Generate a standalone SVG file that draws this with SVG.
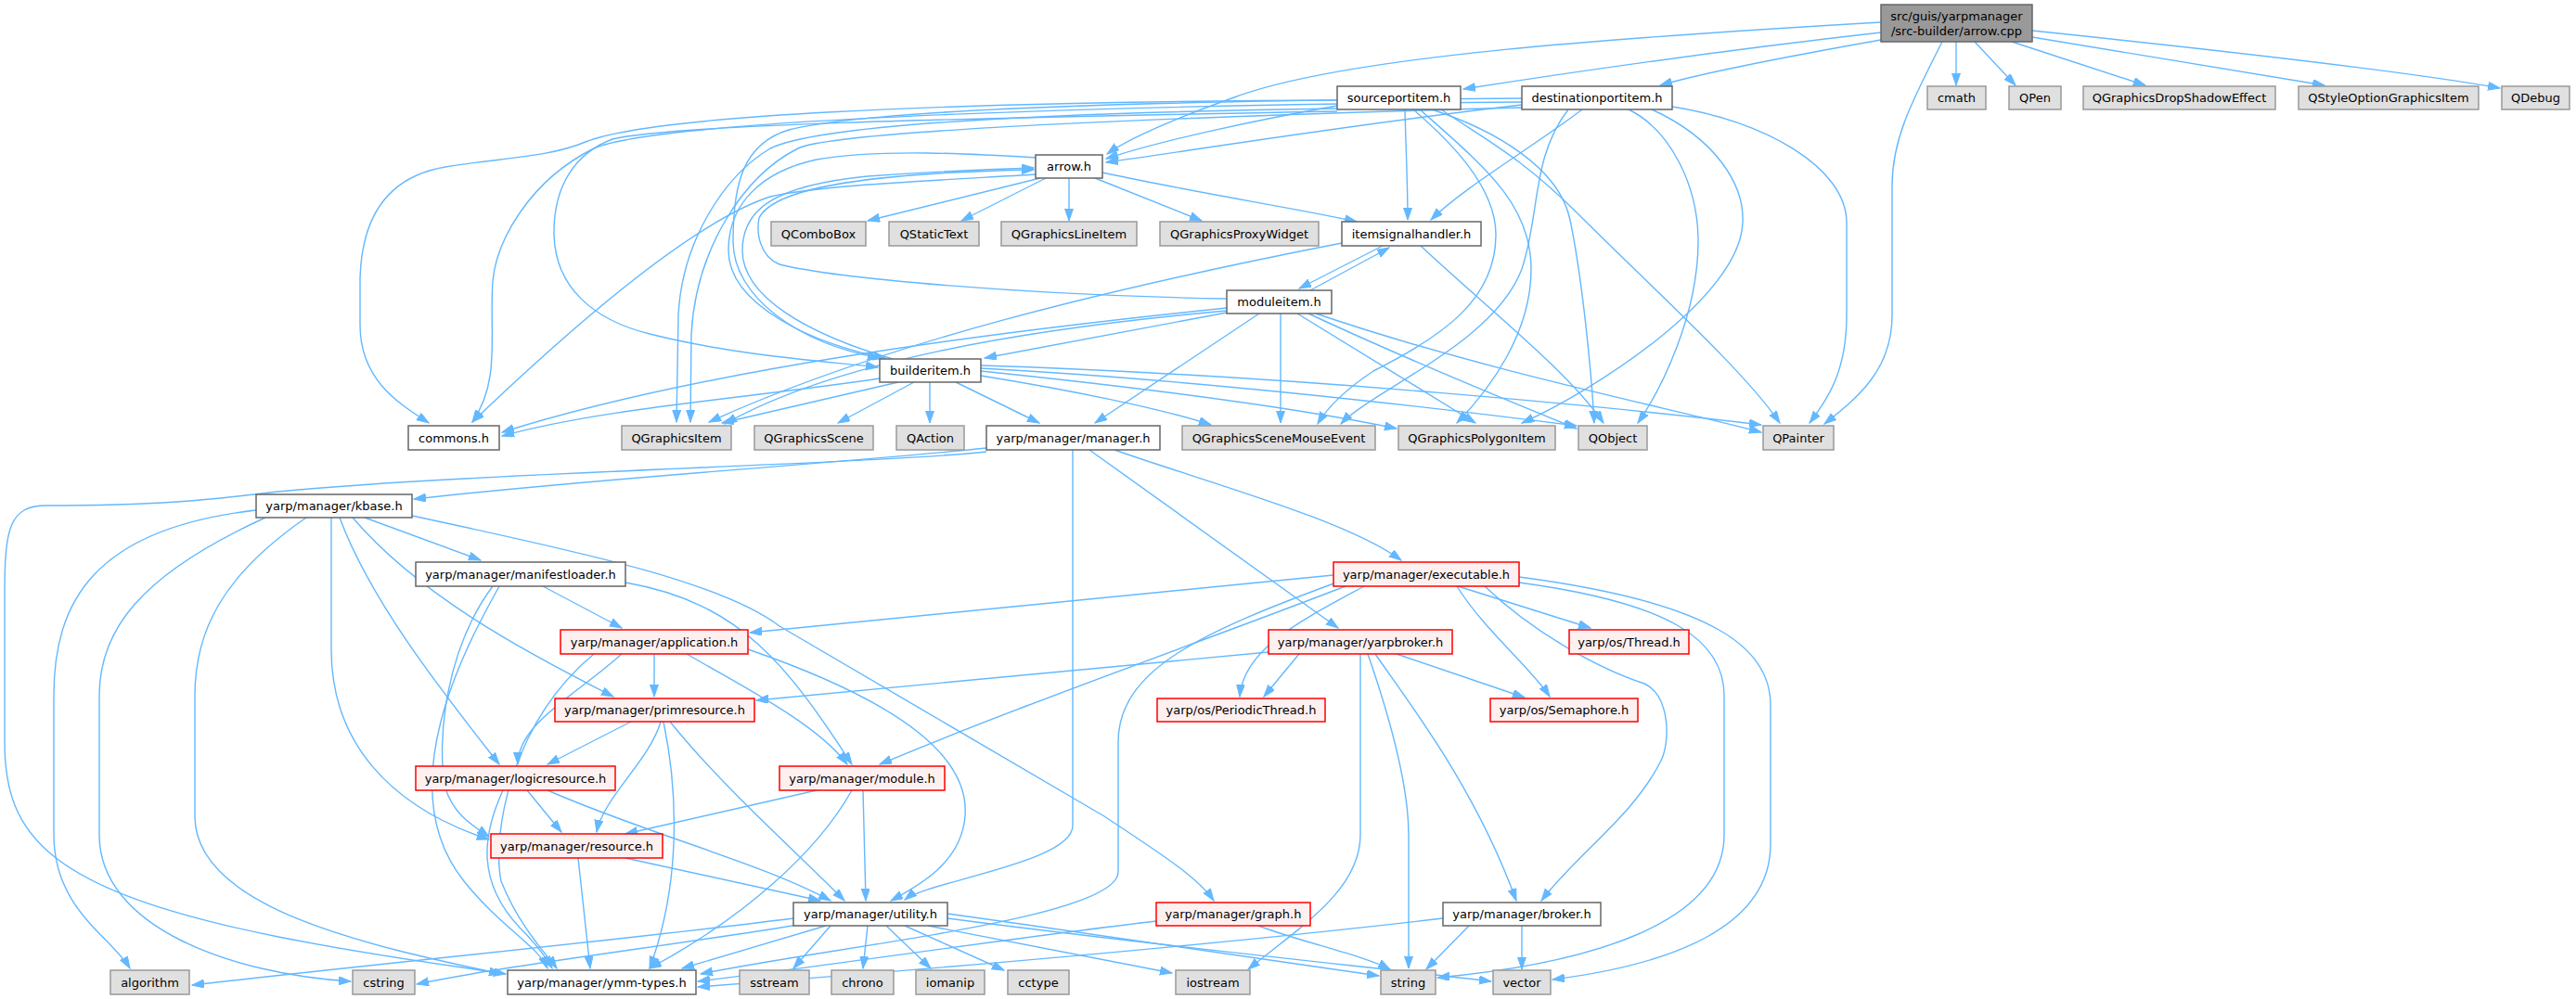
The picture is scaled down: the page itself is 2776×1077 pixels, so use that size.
<svg xmlns="http://www.w3.org/2000/svg" width="2776" height="1077" viewBox="0 0 2776 1077">
<defs>
<marker id="ah" markerUnits="userSpaceOnUse" markerWidth="14" markerHeight="10" refX="13" refY="4.5" orient="auto">
<path d="M0,0 L13,4.5 L0,9 z" fill="#63b8ff" stroke="#63b8ff" stroke-width="1"/>
</marker>
</defs>
<style>
rect{stroke-width:1.5}
.n rect{fill:#ffffff;stroke:#666666}
.g rect{fill:#e0e0e0;stroke:#999999}
.r rect{fill:#fff0f0;stroke:#ff0000}
.root rect{fill:#999999;stroke:#666666}
text{font-family:"DejaVu Sans","Liberation Sans",sans-serif;font-size:13px;text-anchor:middle;fill:#000000}
#edges path{fill:none;stroke:#63b8ff;stroke-width:1.4;marker-end:url(#ah)}
</style>
<rect x="0" y="0" width="2776" height="1077" fill="#ffffff"/>
<g id="edges">
<path d="M2027,24 C1750,40 1450,60 1330,105 C1260,130 1215,150 1193,166"/>
<path d="M2027,35 C1850,55 1680,80 1577,96"/>
<path d="M2027,43 C1920,62 1830,80 1789,92"/>
<path d="M2108,45 L2108,92"/>
<path d="M2128,45 L2172,92"/>
<path d="M2168,45 L2312,92"/>
<path d="M2190,40 L2505,92"/>
<path d="M2190,33 C2400,55 2600,78 2694,95"/>
<path d="M2093,45 C2060,110 2039,150 2039,200 L2039,340 C2039,400 2000,430 1966,457"/>
<path d="M1441,114 C1350,130 1250,152 1192,171"/>
<path d="M1514,118 C1515,160 1517,200 1517,237"/>
<path d="M1441,108 C1000,110 700,125 631,153 C590,170 540,170 480,180 C420,190 390,230 388,300 L388,350 C388,410 430,435 462,456"/>
<path d="M1441,120 C1000,128 720,135 660,150 C620,165 597,200 597,250 C597,310 640,345 700,360 C800,385 900,390 946,396"/>
<path d="M1441,117 C1100,122 880,135 830,160 C780,190 735,260 731,340 L729,455"/>
<path d="M1523,118 C1560,150 1612,200 1612,253 C1612,320 1560,360 1480,400 C1450,420 1430,440 1420,457"/>
<path d="M1530,118 C1600,180 1650,220 1650,290 C1650,360 1605,420 1570,456"/>
<path d="M1543,118 C1610,140 1680,180 1692,237 C1705,300 1715,400 1718,456"/>
<path d="M1553,118 C1600,150 1640,170 1700,230 C1780,310 1880,400 1918,456"/>
<path d="M1640,113 C1450,135 1300,160 1192,175"/>
<path d="M1705,118 C1650,160 1580,200 1542,237"/>
<path d="M1640,110 C1300,112 720,125 640,160 C570,195 535,260 531,303 C527,360 540,410 509,455"/>
<path d="M1640,106 C1300,108 950,115 850,140 C800,155 790,200 790,260 C790,320 860,370 948,386"/>
<path d="M1640,116 C1300,125 900,140 860,160 C800,190 750,270 745,360 L744,455"/>
<path d="M1690,118 C1650,170 1660,230 1640,290 C1610,370 1480,420 1445,457"/>
<path d="M1780,118 C1850,150 1880,200 1878,240 C1875,320 1720,420 1640,456"/>
<path d="M1755,118 C1800,140 1830,200 1830,260 C1830,340 1790,420 1765,456"/>
<path d="M1802,115 C1900,130 1990,180 1990,240 L1990,340 C1990,400 1970,430 1950,456"/>
<path d="M1121,192 L935,238"/>
<path d="M1127,192 L1036,238"/>
<path d="M1152,192 L1152,238"/>
<path d="M1180,192 L1295,238"/>
<path d="M1188,186 C1300,210 1400,225 1462,239"/>
<path d="M1117,170 C1050,166 950,160 880,172 C820,185 785,220 785,270 C785,330 880,372 954,386"/>
<path d="M1117,188 C1000,195 880,200 830,212 C760,235 650,320 509,455"/>
<path d="M1490,265 L1400,311"/>
<path d="M1531,265 C1600,330 1690,400 1728,456"/>
<path d="M1446,262 C1200,310 950,370 764,455"/>
<path d="M1412,313 L1497,267"/>
<path d="M1321,322 C1100,318 900,300 840,285 C818,276 815,250 818,235 C835,200 950,186 1114,183"/>
<path d="M1322,337 L1061,386"/>
<path d="M1322,332 C1050,360 750,400 541,466"/>
<path d="M1322,335 C1100,355 900,390 781,457"/>
<path d="M1357,338 L1180,456"/>
<path d="M1380,338 L1380,456"/>
<path d="M1398,338 L1590,456"/>
<path d="M1410,338 C1500,380 1620,430 1699,462"/>
<path d="M1418,338 C1600,400 1800,440 1898,466"/>
<path d="M962,387 C870,360 800,320 800,270 C800,225 835,200 935,190 C1020,184 1080,182 1114,181"/>
<path d="M948,408 C800,430 650,440 541,470"/>
<path d="M968,412 L778,456"/>
<path d="M985,412 L903,456"/>
<path d="M1002,412 L1002,456"/>
<path d="M1030,412 L1120,456"/>
<path d="M1057,405 C1150,420 1250,440 1305,458"/>
<path d="M1057,400 C1250,420 1400,440 1505,462"/>
<path d="M1057,397 C1300,410 1550,440 1699,459"/>
<path d="M1057,394 C1400,405 1750,440 1898,458"/>
<path d="M1063,483 C900,500 650,515 446,538"/>
<path d="M1063,487 C950,500 500,510 300,530 C250,535 200,545 50,545 C10,545 5,570 5,640 L5,800 C5,900 50,960 300,1010 C400,1030 480,1040 545,1050"/>
<path d="M1156,485 L1156,890 C1156,930 1000,950 975,970"/>
<path d="M1174,485 L1442,677"/>
<path d="M1201,485 C1300,520 1450,560 1510,604"/>
<path d="M276,550 C100,570 58,650 58,750 L58,900 C58,980 120,1010 140,1044"/>
<path d="M286,558 C150,620 107,680 107,750 L107,900 C107,1000 250,1050 378,1058"/>
<path d="M330,558 C240,620 210,680 210,750 L210,880 C210,980 400,1020 540,1050"/>
<path d="M357,558 L357,700 C357,800 420,870 527,905"/>
<path d="M366,558 C400,650 480,750 538,824"/>
<path d="M380,558 C450,640 560,700 661,751"/>
<path d="M393,558 L518,604"/>
<path d="M444,556 C650,600 780,630 840,675 L1190,880 C1250,920 1290,945 1308,971"/>
<path d="M585,632 L670,677"/>
<path d="M531,632 C480,700 470,800 480,850 C490,880 510,890 527,902"/>
<path d="M538,632 C500,700 420,850 500,950 C540,1000 580,1020 590,1044"/>
<path d="M674,628 C800,650 850,720 918,824"/>
<path d="M1437,620 L808,682"/>
<path d="M1450,632 C1300,690 1100,760 948,824"/>
<path d="M1440,628 C1300,680 1205,720 1205,800 L1205,940 C1205,990 900,1020 755,1050"/>
<path d="M1470,632 C1400,670 1340,700 1336,751"/>
<path d="M1570,632 C1600,680 1650,720 1670,751"/>
<path d="M1571,632 L1714,677"/>
<path d="M1600,632 C1650,680 1720,720 1772,737 C1800,750 1800,800 1790,820 C1760,880 1700,920 1661,971"/>
<path d="M1637,628 C1800,650 1858,690 1858,750 L1858,900 C1858,1000 1700,1040 1549,1054"/>
<path d="M1637,622 C1850,650 1908,700 1908,760 L1908,910 C1908,1000 1800,1040 1673,1056"/>
<path d="M705,705 L705,751"/>
<path d="M670,705 C620,750 558,780 558,824"/>
<path d="M640,705 C550,780 530,900 540,950 C560,1000 590,1030 600,1044"/>
<path d="M740,705 C800,740 880,780 913,824"/>
<path d="M806,700 C980,760 1045,820 1040,880 C1036,930 990,955 960,971"/>
<path d="M1367,703 L815,755"/>
<path d="M1400,705 L1362,751"/>
<path d="M1505,705 L1643,752"/>
<path d="M1482,705 C1520,760 1590,850 1634,971"/>
<path d="M1474,705 C1500,780 1518,850 1518,900 L1518,1044"/>
<path d="M1466,705 L1466,900 C1466,960 1400,1000 1345,1045"/>
<path d="M680,778 L590,824"/>
<path d="M712,778 C700,820 650,860 643,897"/>
<path d="M722,778 C780,850 860,920 910,971"/>
<path d="M715,778 C730,850 735,950 700,1044"/>
<path d="M568,852 L605,897"/>
<path d="M542,852 C520,900 513,950 560,1000 C580,1020 590,1035 595,1044"/>
<path d="M590,852 C700,900 820,930 895,971"/>
<path d="M880,852 L674,899"/>
<path d="M930,852 L933,971"/>
<path d="M918,852 C880,920 800,990 700,1044"/>
<path d="M623,925 L636,1044"/>
<path d="M674,925 L884,971"/>
<path d="M855,990 C700,1010 400,1040 207,1062"/>
<path d="M860,997 C720,1020 550,1040 449,1061"/>
<path d="M890,998 L735,1044"/>
<path d="M895,998 L855,1044"/>
<path d="M935,998 L930,1044"/>
<path d="M955,998 L1003,1044"/>
<path d="M975,998 L1082,1046"/>
<path d="M1000,998 L1263,1049"/>
<path d="M1021,985 C1200,1010 1400,1040 1486,1052"/>
<path d="M1021,990 C1250,1020 1500,1045 1607,1058"/>
<path d="M1246,993 C1100,1010 900,1040 752,1058"/>
<path d="M1356,998 C1400,1015 1470,1030 1498,1045"/>
<path d="M1555,990 C1300,1020 1000,1045 752,1064"/>
<path d="M1583,998 L1537,1045"/>
<path d="M1640,998 L1640,1045"/>
</g>
<g id="node_root" class="root"><rect x="2027" y="5" width="163" height="40"/><text x="2108.5" y="21.5">src/guis/yarpmanager</text><text x="2108.5" y="37.5">/src-builder/arrow.cpp</text></g>
<g id="node_sourceportitem" class="n"><rect x="1441" y="93" width="133" height="25"/><text x="1507.5" y="110">sourceportitem.h</text></g>
<g id="node_destinationportitem" class="n"><rect x="1640" y="93" width="162" height="25"/><text x="1721" y="110">destinationportitem.h</text></g>
<g id="node_cmath" class="g"><rect x="2077" y="93" width="63" height="25"/><text x="2108.5" y="110">cmath</text></g>
<g id="node_QPen" class="g"><rect x="2165" y="93" width="56" height="25"/><text x="2193" y="110">QPen</text></g>
<g id="node_QGraphicsDropShadowEffect" class="g"><rect x="2245" y="93" width="207" height="25"/><text x="2348.5" y="110">QGraphicsDropShadowEffect</text></g>
<g id="node_QStyleOptionGraphicsItem" class="g"><rect x="2477" y="93" width="194" height="25"/><text x="2574" y="110">QStyleOptionGraphicsItem</text></g>
<g id="node_QDebug" class="g"><rect x="2696" y="93" width="73" height="25"/><text x="2732.5" y="110">QDebug</text></g>
<g id="node_arrow_h" class="n"><rect x="1116" y="167" width="72" height="25"/><text x="1152" y="184">arrow.h</text></g>
<g id="node_QComboBox" class="g"><rect x="831" y="239" width="102" height="26"/><text x="882" y="256.5">QComboBox</text></g>
<g id="node_QStaticText" class="g"><rect x="958" y="239" width="97" height="26"/><text x="1006.5" y="256.5">QStaticText</text></g>
<g id="node_QGraphicsLineItem" class="g"><rect x="1079" y="239" width="146" height="26"/><text x="1152" y="256.5">QGraphicsLineItem</text></g>
<g id="node_QGraphicsProxyWidget" class="g"><rect x="1250" y="239" width="171" height="26"/><text x="1335.5" y="256.5">QGraphicsProxyWidget</text></g>
<g id="node_itemsignalhandler" class="n"><rect x="1446" y="239" width="150" height="26"/><text x="1521" y="256.5">itemsignalhandler.h</text></g>
<g id="node_moduleitem" class="n"><rect x="1322" y="313" width="113" height="25"/><text x="1378.5" y="330">moduleitem.h</text></g>
<g id="node_builderitem" class="n"><rect x="948" y="387" width="109" height="25"/><text x="1002.5" y="404">builderitem.h</text></g>
<g id="node_commons" class="n"><rect x="440" y="459" width="98" height="26"/><text x="489" y="476.5">commons.h</text></g>
<g id="node_QGraphicsItem" class="g"><rect x="670" y="459" width="118" height="26"/><text x="729" y="476.5">QGraphicsItem</text></g>
<g id="node_QGraphicsScene" class="g"><rect x="813" y="459" width="128" height="26"/><text x="877" y="476.5">QGraphicsScene</text></g>
<g id="node_QAction" class="g"><rect x="966" y="459" width="73" height="26"/><text x="1002.5" y="476.5">QAction</text></g>
<g id="node_manager" class="n"><rect x="1063" y="459" width="187" height="26"/><text x="1156.5" y="476.5">yarp/manager/manager.h</text></g>
<g id="node_QGraphicsSceneMouseEvent" class="g"><rect x="1274" y="459" width="208" height="26"/><text x="1378" y="476.5">QGraphicsSceneMouseEvent</text></g>
<g id="node_QGraphicsPolygonItem" class="g"><rect x="1507" y="459" width="169" height="26"/><text x="1591.5" y="476.5">QGraphicsPolygonItem</text></g>
<g id="node_QObject" class="g"><rect x="1701" y="459" width="74" height="26"/><text x="1738" y="476.5">QObject</text></g>
<g id="node_QPainter" class="g"><rect x="1900" y="459" width="76" height="26"/><text x="1938" y="476.5">QPainter</text></g>
<g id="node_kbase" class="n"><rect x="276" y="533" width="168" height="25"/><text x="360" y="550">yarp/manager/kbase.h</text></g>
<g id="node_manifestloader" class="n"><rect x="448" y="606" width="226" height="26"/><text x="561" y="623.5">yarp/manager/manifestloader.h</text></g>
<g id="node_executable" class="r"><rect x="1437" y="606" width="200" height="26"/><text x="1537" y="623.5">yarp/manager/executable.h</text></g>
<g id="node_application" class="r"><rect x="604" y="679" width="202" height="26"/><text x="705" y="696.5">yarp/manager/application.h</text></g>
<g id="node_yarpbroker" class="r"><rect x="1367" y="679" width="198" height="26"/><text x="1466" y="696.5">yarp/manager/yarpbroker.h</text></g>
<g id="node_Thread" class="r"><rect x="1691" y="679" width="129" height="26"/><text x="1755.5" y="696.5">yarp/os/Thread.h</text></g>
<g id="node_primresource" class="r"><rect x="598" y="753" width="215" height="25"/><text x="705.5" y="770">yarp/manager/primresource.h</text></g>
<g id="node_PeriodicThread" class="r"><rect x="1247" y="753" width="181" height="25"/><text x="1337.5" y="770">yarp/os/PeriodicThread.h</text></g>
<g id="node_Semaphore" class="r"><rect x="1606" y="753" width="159" height="25"/><text x="1685.5" y="770">yarp/os/Semaphore.h</text></g>
<g id="node_logicresource" class="r"><rect x="448" y="826" width="215" height="26"/><text x="555.5" y="843.5">yarp/manager/logicresource.h</text></g>
<g id="node_module" class="r"><rect x="840" y="826" width="178" height="26"/><text x="929" y="843.5">yarp/manager/module.h</text></g>
<g id="node_resource" class="r"><rect x="529" y="899" width="185" height="26"/><text x="621.5" y="916.5">yarp/manager/resource.h</text></g>
<g id="node_utility" class="n"><rect x="855" y="973" width="166" height="25"/><text x="938" y="990">yarp/manager/utility.h</text></g>
<g id="node_graph" class="r"><rect x="1246" y="973" width="166" height="25"/><text x="1329" y="990">yarp/manager/graph.h</text></g>
<g id="node_broker" class="n"><rect x="1555" y="973" width="170" height="25"/><text x="1640" y="990">yarp/manager/broker.h</text></g>
<g id="node_algorithm" class="g"><rect x="119" y="1046" width="85" height="26"/><text x="161.5" y="1063.5">algorithm</text></g>
<g id="node_cstring" class="g"><rect x="380" y="1046" width="67" height="26"/><text x="413.5" y="1063.5">cstring</text></g>
<g id="node_ymm_types" class="n"><rect x="547" y="1046" width="203" height="26"/><text x="648.5" y="1063.5">yarp/manager/ymm-types.h</text></g>
<g id="node_sstream" class="g"><rect x="797" y="1046" width="75" height="26"/><text x="834.5" y="1063.5">sstream</text></g>
<g id="node_chrono" class="g"><rect x="896" y="1046" width="67" height="26"/><text x="929.5" y="1063.5">chrono</text></g>
<g id="node_iomanip" class="g"><rect x="987" y="1046" width="74" height="26"/><text x="1024" y="1063.5">iomanip</text></g>
<g id="node_cctype" class="g"><rect x="1086" y="1046" width="66" height="26"/><text x="1119" y="1063.5">cctype</text></g>
<g id="node_iostream" class="g"><rect x="1267" y="1046" width="80" height="26"/><text x="1307" y="1063.5">iostream</text></g>
<g id="node_string" class="g"><rect x="1488" y="1046" width="59" height="26"/><text x="1517.5" y="1063.5">string</text></g>
<g id="node_vector" class="g"><rect x="1609" y="1046" width="62" height="26"/><text x="1640" y="1063.5">vector</text></g>
</svg>
